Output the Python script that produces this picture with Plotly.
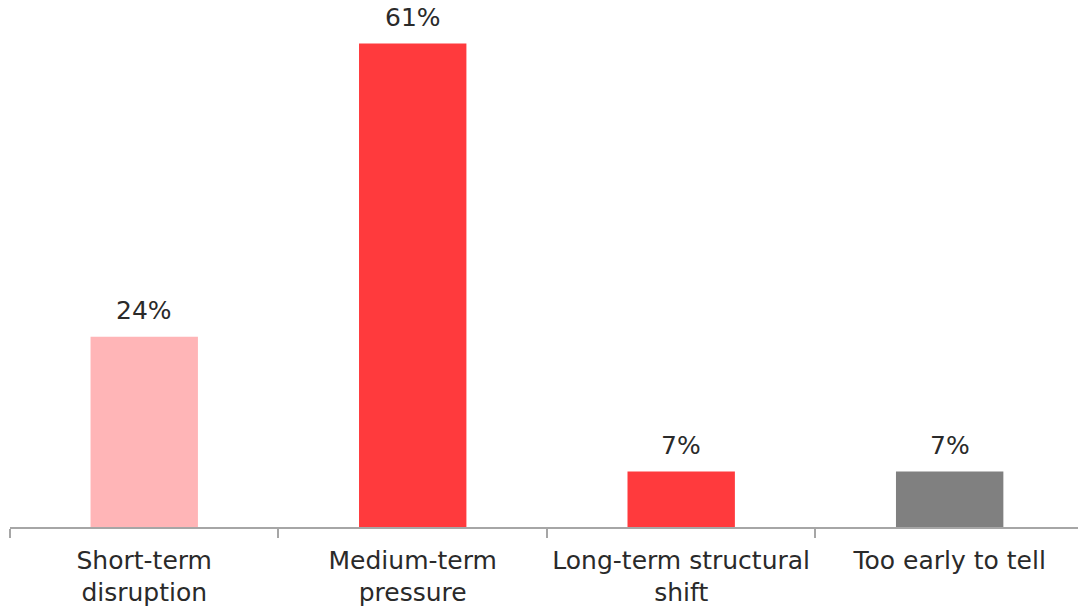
import plotly.graph_objects as go

categories = ["Short-term<br>disruption", "Medium-term<br>pressure",
              "Long-term structural<br>shift", "Too early to tell"]
values = [24, 61, 7, 7]
bar_colors = ["#FFB5B7", "#FF3A3D", "#FF3A3D", "#808080"]
value_labels = ["24%", "61%", "7%", "7%"]

FONT = "DejaVu Sans"
TEXT_COLOR = "#2A2A2A"
FONT_SIZE = 25

fig = go.Figure(
    go.Bar(
        x=categories,
        y=values,
        width=0.4,
        marker=dict(color=bar_colors, line=dict(width=0)),
        hoverinfo="skip",
    )
)

for cat, val, lab in zip(categories, values, value_labels):
    fig.add_annotation(
        x=cat, y=val, text=lab, showarrow=False,
        yanchor="bottom", yshift=10,
        font=dict(family=FONT, size=FONT_SIZE, color=TEXT_COLOR),
    )

fig.update_layout(
    width=1078, height=606,
    margin=dict(l=10, r=0, t=0, b=79),
    paper_bgcolor="white", plot_bgcolor="white",
    showlegend=False,
    font=dict(family=FONT, size=FONT_SIZE, color=TEXT_COLOR),
)

fig.update_xaxes(
    range=[-0.5, 3.478],
    showline=True, linecolor="#A6A6A6", linewidth=1.5,
    ticks="outside", tickson="boundaries", ticklen=9,
    tickcolor="#A6A6A6", tickwidth=1.5,
    ticklabelstandoff=10,
    showgrid=False, zeroline=False,
    tickfont=dict(family=FONT, size=FONT_SIZE, color=TEXT_COLOR),
)
fig.update_yaxes(
    range=[0, 66.5], visible=False, showgrid=False, zeroline=False,
)

fig.write_html("out.html")
